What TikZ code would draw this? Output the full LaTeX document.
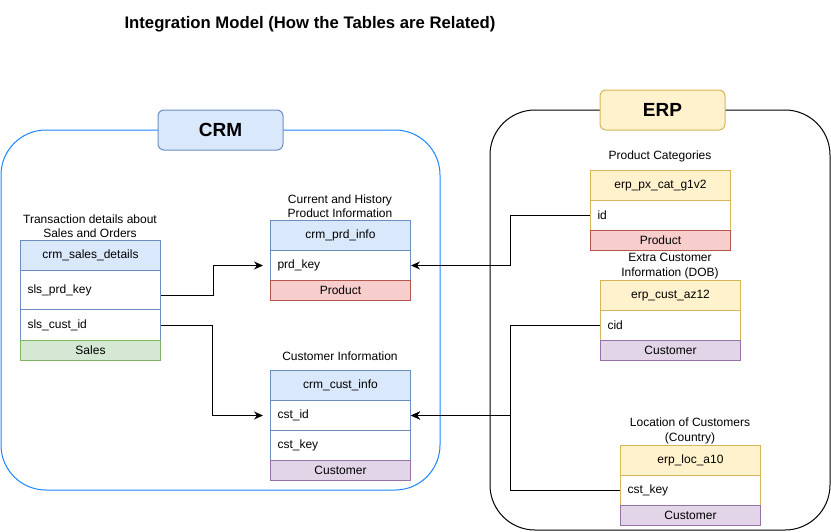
\documentclass[tikz,border=0pt]{standalone}
\usepackage{fontspec}
\setmainfont{Liberation Sans}
\usetikzlibrary{arrows.meta}

\definecolor{blueFill}{HTML}{DAE8FC}
\definecolor{blueLine}{HTML}{6C8EBF}
\definecolor{yellowFill}{HTML}{FFF2CC}
\definecolor{yellowLine}{HTML}{D6B656}
\definecolor{redFill}{HTML}{F8CECC}
\definecolor{redLine}{HTML}{B85450}
\definecolor{greenFill}{HTML}{D5E8D4}
\definecolor{greenLine}{HTML}{82B366}
\definecolor{purpleFill}{HTML}{E1D5E7}
\definecolor{purpleLine}{HTML}{9673A6}
\definecolor{crmFrame}{HTML}{1A85FF}

\begin{document}
\begin{tikzpicture}[x=1pt,y=-1pt,
    txt/.style={font=\fontsize{12}{14.5}\selectfont, align=center, inner sep=0pt},
    head/.style={minimum width=140pt, minimum height=30pt, inner sep=0pt, line width=1pt, font=\fontsize{12}{14.5}\selectfont, anchor=north west},
    row/.style={text width=126pt, inner xsep=7pt, inner ysep=0pt, minimum height=30pt, align=left, fill=white, line width=1pt, font=\fontsize{12}{14.5}\selectfont, anchor=north west},
    foot/.style={head, minimum height=20pt},
    badge/.style={minimum width=125pt, minimum height=40pt, inner sep=0pt, rounded corners=6pt, line width=1pt, font=\bfseries\fontsize{19}{22}\selectfont},
    conn/.style={line width=1pt, -{Stealth[length=9pt,width=8pt,inset=3pt]}}]
    \useasboundingbox (0,0) rectangle (831,531);

    % title
    \node[font=\bfseries\fontsize{16.7}{20}\selectfont] (title) at (310,24) {Integration Model (How the Tables are Related)};

    % containers
    \draw[crmFrame, line width=1pt, rounded corners=45pt] (1,130) rectangle (440,490);
    \draw[black, line width=1pt, rounded corners=45pt] (490,110) rectangle (830,530);
    \node[badge, fill=blueFill, draw=blueLine] (crm) at (220.5,130) {CRM};
    \node[badge, fill=yellowFill, draw=yellowLine] (erp) at (662.5,110) {ERP};

    % crm_sales_details
    \node[txt] (salesText) at (90,226) {Transaction details about\\Sales and Orders};
    \node[head, fill=blueFill, draw=blueLine] (salesHead) at (20,240) {crm\_sales\_details};
    \node[row, draw=blueLine, minimum height=39pt] (slsPrdKey) at (20,270) {sls\_prd\_key};
    \node[row, draw=blueLine, minimum height=31pt] (slsCustId) at (20,309) {sls\_cust\_id};
    \node[foot, fill=greenFill, draw=greenLine] (salesFoot) at (20,340) {Sales};

    % crm_prd_info
    \node[txt] (prdText) at (340,206) {Current and History\\Product Information};
    \node[head, fill=blueFill, draw=blueLine] (prdHead) at (270,220) {crm\_prd\_info};
    \node[row, draw=blueLine] (prdKey) at (270,250) {prd\_key};
    \node[foot, fill=redFill, draw=redLine] (prdFoot) at (270,280) {Product};

    % crm_cust_info
    \node[txt] (custText) at (340,356) {Customer Information};
    \node[head, fill=blueFill, draw=blueLine] (custHead) at (270,370) {crm\_cust\_info};
    \node[row, draw=blueLine] (custId) at (270,400) {cst\_id};
    \node[row, draw=blueLine] (custKey) at (270,430) {cst\_key};
    \node[foot, fill=purpleFill, draw=purpleLine] (custFoot) at (270,460) {Customer};

    % erp_px_cat_g1v2
    \node[txt] (catText) at (660,156) {Product Categories};
    \node[head, fill=yellowFill, draw=yellowLine] (catHead) at (590,170) {erp\_px\_cat\_g1v2};
    \node[row, draw=yellowLine] (catId) at (590,200) {id};
    \node[foot, fill=redFill, draw=redLine] (catFoot) at (590,230) {Product};

    % erp_cust_az12
    \node[txt] (azText) at (670,266) {Extra Customer\\Information (DOB)};
    \node[head, fill=yellowFill, draw=yellowLine] (azHead) at (600,280) {erp\_cust\_az12};
    \node[row, draw=yellowLine] (azCid) at (600,310) {cid};
    \node[foot, fill=purpleFill, draw=purpleLine] (azFoot) at (600,340) {Customer};

    % erp_loc_a10
    \node[txt] (locText) at (690,431) {Location of Customers\\(Country)};
    \node[head, fill=yellowFill, draw=yellowLine] (locHead) at (620,445) {erp\_loc\_a10};
    \node[row, draw=yellowLine] (locKey) at (620,475) {cst\_key};
    \node[foot, fill=purpleFill, draw=purpleLine] (locFoot) at (620,505) {Customer};

    % relations
    \draw[conn, shorten >=7pt] ([yshift=-5pt]slsPrdKey.east) -- ++(52,0) |- (prdKey.west);
    \draw[conn, shorten >=7pt] (slsCustId.east) -- ++(51,0) |- (custId.west);
    \draw[conn] (catId.west) -- ++(-80,0) |- (prdKey.east);
    \draw[conn] (azCid.west) -- ++(-90,0) |- (custId.east);
    \draw[conn] (locKey.west) -- ++(-110,0) |- (custId.east);
\end{tikzpicture}
\end{document}
